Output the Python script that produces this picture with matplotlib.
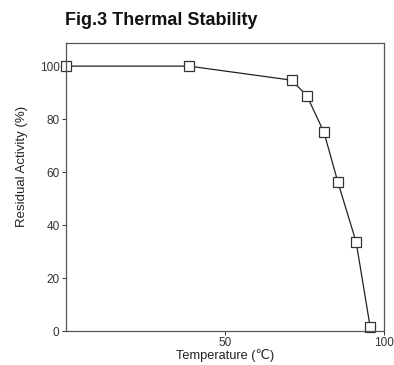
import matplotlib
matplotlib.use("Agg")
import matplotlib.pyplot as plt

# data
temperature = [0, 38.7, 70.9, 75.7, 81.1, 85.5, 91.2, 95.6]
residual = [100, 100, 94.7, 88.9, 75.0, 56.1, 33.6, 1.6]
x_ticks = [50, 100]
y_ticks = [0, 20, 40, 60, 80, 100]

plt.rcParams['font.family'] = ['Liberation Sans', 'DejaVu Sans']

fig = plt.figure(figsize=(3.94, 3.65), dpi=100)
ax = fig.add_axes([0.167, 0.093, 0.808, 0.789])

ax.plot(temperature, residual, color="#222222", linewidth=0.9,
        marker="s", markersize=7, markerfacecolor="white",
        markeredgecolor="#333333", markeredgewidth=0.9, clip_on=False)

ax.set_xlim(0, 100)
ax.set_ylim(0, 108.7)
ax.set_xticks(x_ticks)
ax.set_yticks(y_ticks)
ax.tick_params(labelsize=8.5, colors="#333333", length=3, width=0.7, pad=1.5)
for s in ax.spines.values():
    s.set_color("#555555")
    s.set_linewidth(0.9)

ax.set_xlabel("Temperature (℃)", fontsize=9.2, color="#222222", labelpad=0)
ax.set_ylabel("Residual Activity (%)", fontsize=9.5, color="#222222")
ax.yaxis.set_label_coords(-0.12, 0.57)

fig.text(0.165, 0.945, "Fig.3 Thermal Stability", fontsize=13,
         fontweight="bold", ha="left", va="center", color="#111111")

fig.savefig("out.png", dpi=100)
